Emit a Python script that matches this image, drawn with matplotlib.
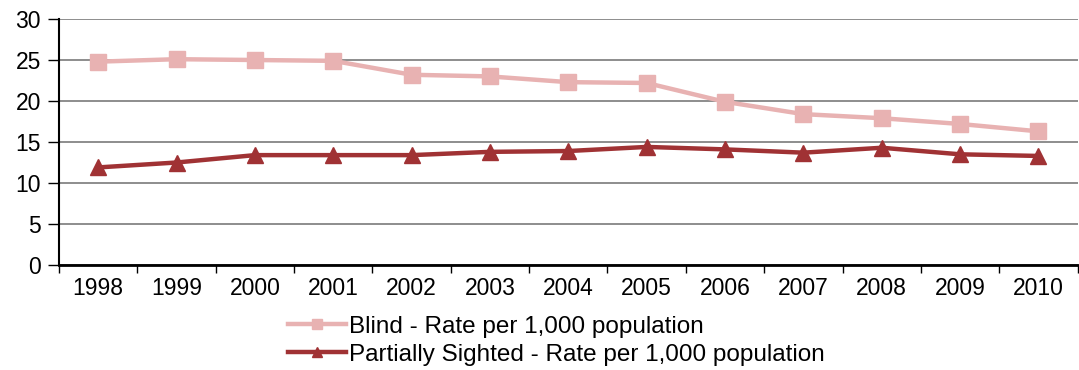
import numpy as np
import matplotlib.pyplot as plt

plt.rcParams['font.family'] = ['Liberation Sans', 'DejaVu Sans']

years = ['1998', '1999', '2000', '2001', '2002', '2003', '2004',
         '2005', '2006', '2007', '2008', '2009', '2010']
blind = [24.8, 25.1, 25.0, 24.9, 23.2, 23.0, 22.3, 22.2, 19.9, 18.4, 17.9, 17.2, 16.3]
partial = [11.9, 12.5, 13.4, 13.4, 13.4, 13.8, 13.9, 14.4, 14.1, 13.7, 14.3, 13.5, 13.3]

x = np.arange(len(years))

fig = plt.figure(figsize=(10.79, 3.70), dpi=100)
ax = fig.add_axes([0.0547, 0.2838, 0.944, 0.6648])

ax.plot(x, blind, color='#E8B2B2', lw=3.2, marker='s', ms=12,
        label='Blind - Rate per 1,000 population')
ax.plot(x, partial, color='#A03234', lw=3.2, marker='^', ms=12,
        label='Partially Sighted - Rate per 1,000 population')

ax.set_xlim(-0.5, len(years) - 0.5)
ax.set_ylim(0, 30)
ax.set_yticks(range(0, 31, 5))
ax.yaxis.grid(True, color='#7a7a7a', lw=1.2)
ax.set_axisbelow(True)

# category labels between boundary ticks
ax.set_xticks(np.arange(len(years) + 1) - 0.5)
ax.set_xticklabels([])
ax.set_xticks(x, minor=True)
ax.set_xticklabels(years, minor=True)
ax.tick_params(axis='x', which='minor', length=0, pad=9, labelsize=16.5)
ax.tick_params(axis='x', which='major', length=6, direction='out', width=1)
ax.tick_params(axis='y', length=8, width=1, labelsize=16.5, pad=5)

for s in ['top', 'right']:
    ax.spines[s].set_visible(False)
ax.spines['left'].set_linewidth(1.5)
ax.spines['bottom'].set_linewidth(2)

fig.legend(loc='upper left', bbox_to_anchor=(0.267, 0.147), frameon=False,
           fontsize=17.5, handlelength=2.4, handletextpad=0.1, markerscale=0.6,
           labelspacing=0.25, borderpad=0, borderaxespad=0)

fig.savefig('out.png', dpi=100)
